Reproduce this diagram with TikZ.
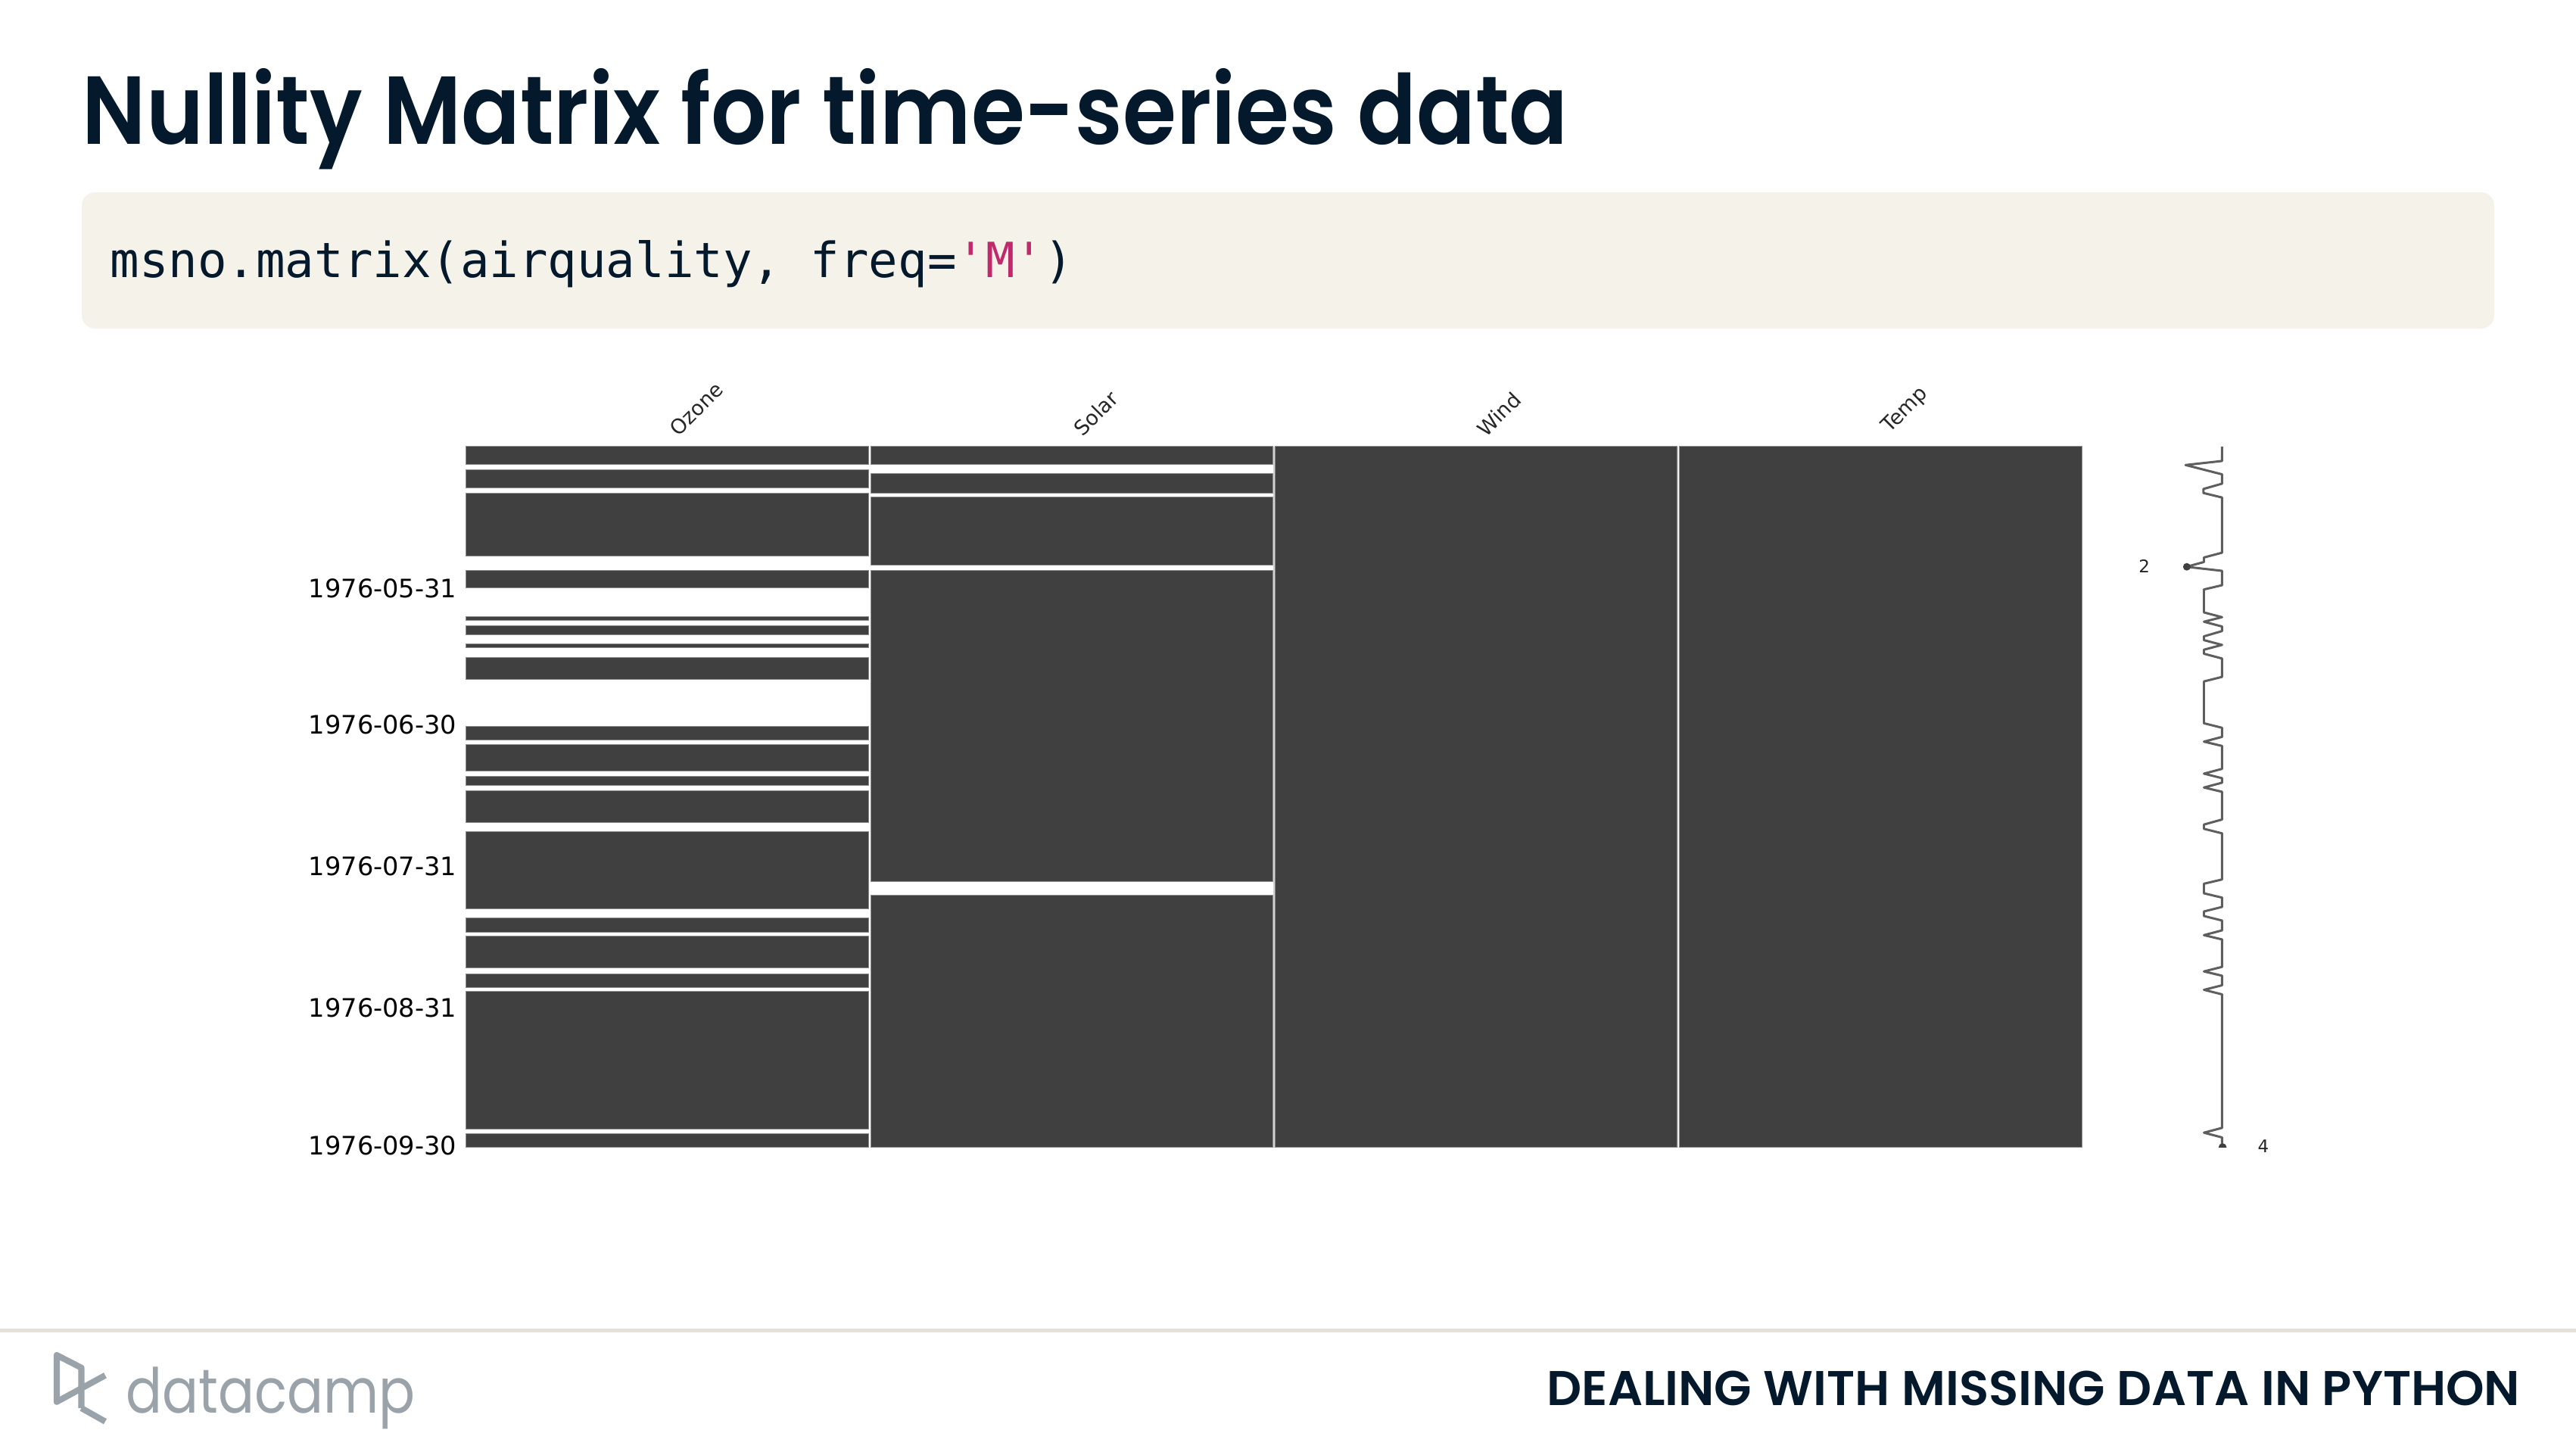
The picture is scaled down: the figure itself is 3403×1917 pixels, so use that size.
\documentclass[tikz,border=0pt]{standalone}
\usepackage{graphicx}
\usepackage{fontspec}
\setmainfont{DejaVu Sans}
\newfontfamily\popp{Poppins}
\newfontfamily\poppsb{Poppins SemiBold}
\newfontfamily\codef{DejaVu Sans Mono}
\definecolor{navy}{HTML}{05192D}
\definecolor{beige}{HTML}{F5F2E9}
\definecolor{rulec}{HTML}{E5E1DA}
\definecolor{barc}{HTML}{404040}
\definecolor{barline}{HTML}{8C8C8C}
\definecolor{sepc}{HTML}{D2D2D2}
\definecolor{sparkc}{HTML}{5E5E5E}
\definecolor{logoc}{HTML}{9BA3AA}
\definecolor{strc}{HTML}{BF2A6C}
\newcommand{\pxs}[1]{\fontsize{\dimexpr #1pt*2845/10000\relax}{\dimexpr #1pt*3000/10000\relax}\selectfont}
\tikzset{
  x=0.01cm,y=-0.01cm,
  nullbar/.style={fill=barc,draw=barline,line width=0.22pt},
  collabel/.style={rotate=45,font=\pxs{27},text=black!85,inner sep=0pt},
  datelabel/.style={anchor=east,font=\pxs{33.6},text=black,inner sep=0pt},
  sparklabel/.style={font=\pxs{23},text=black!85,inner sep=0pt},
  sparkline/.style={draw=sparkc,line width=0.85pt,line join=round},
  logoline/.style={draw=logoc,line width=2.3pt,line join=round}
}
\begin{document}
\begin{tikzpicture}
\useasboundingbox (0,0) rectangle (3403,1917);
\fill[white] (0,0) rectangle (3403,1917);
% title
\node[anchor=base west,inner sep=0pt,text=navy] (title) at (108,190) {\resizebox{1962\dimexpr 0.2845pt\relax}{!}{\scalebox{0.9}[1]{\poppsb\pxs{128}Nullity Matrix for time-series data}}};
% code box
\fill[beige,rounded corners=5pt] (108,254) rectangle (3295,434);
\node[anchor=base west,inner sep=0pt,text=navy,font=\codef\pxs{64}] (code) at (145,366) {msno.matrix(airquality, freq=\textcolor{strc}{'M'})};
% ozone bars
\foreach \a/\b in {589.6/613.2,620.4/644.3,651/734.3,753.2/776.8,814.3/819.3,826.4/838.2,850.4/855.7,868.6/897.5,958.9/977.5,982.9/1018.2,1025.6/1037.3,1044.3/1086.8,1098.2/1200.7,1212.5/1231.4,1236.4/1278.6,1286/1304.3,1309.6/1491.8,1497.1/1515.7}
  \path[nullbar] (615.7,\a) rectangle (1147.8,\b);
% solar bars
\foreach \a/\b in {589.6/613.3,625.3/651,656/746.3,753/1164.7,1182/1515.7}
  \path[nullbar] (1150.4,\a) rectangle (1681.4,\b);
% wind and temp
\path[nullbar] (1684.4,589.6) rectangle (2215,1515.7);
\path[nullbar] (2218,589.6) rectangle (2750,1515.7);
% separators
\draw[sepc,line width=0.45pt] (1682.9,589.6) -- (1682.9,1515.7);
\draw[sepc,line width=0.45pt] (2216.5,589.6) -- (2216.5,1515.7);
% column labels
\node[collabel] (ozone) at (919.6,540) {Ozone};
\node[collabel] (solar) at (1448,546) {Solar};
\node[collabel] (wind) at (1980,547) {Wind};
\node[collabel] (temp) at (2517,542) {Temp};
% dates
\node[datelabel] (d1) at (604,777) {1976-05-31};
\node[datelabel] (d2) at (604,957) {1976-06-30};
\node[datelabel] (d3) at (604,1144) {1976-07-31};
\node[datelabel] (d4) at (604,1331) {1976-08-31};
\node[datelabel] (d5) at (604,1513) {1976-09-30};
% sparkline
\begin{scope}[shift={(2780,560)},x=0.003333cm,y=-0.003333cm]
\draw[sparkline] (467,90)--(467,147)--(322,163)--(467,200)--(467,237)--(393,258)--(393,274)--(467,292)--(467,511)--(395,530)--(395,548)--(325,567)--(467,583)--(467,640)--(395,657)--(395,748)--(467,767)--(395,785)--(467,804)--(467,822)--(395,843)--(395,858)--(467,877)--(395,896)--(395,912)--(467,931)--(467,1004)--(395,1022)--(395,1188)--(467,1206)--(467,1242)--(395,1261)--(467,1278)--(467,1369)--(395,1388)--(467,1406)--(467,1424)--(395,1443)--(467,1460)
--(467,1570)--(395,1590)--(395,1607)--(467,1625)--(467,1808)--(395,1825)--(395,1863)--(467,1880)--(467,1917)--(395,1935)--(395,1953)--(467,1971)--(467,2010)--(395,2029)--(467,2046)--(467,2155)--(395,2173)--(467,2190)--(467,2228)--(395,2246)--(467,2264)--(467,2794)--(395,2813)--(467,2832)--(467,2864);
\fill[barc] (327,567) circle[radius=15];
\begin{scope}
\clip (440,2840) rectangle (500,2872);
\fill[barc] (469,2871) circle[radius=16];
\end{scope}
\end{scope}
\node[sparklabel] (lo) at (2832.7,748) {2};
\node[sparklabel] (hi) at (2990,1514) {4};
% footer
\fill[rulec] (0,1755) rectangle (3403,1760);
\node[anchor=base east,inner sep=0pt,text=navy] (foot) at (3330,1856) {\resizebox{1285\dimexpr 0.2845pt\relax}{!}{\poppsb\pxs{62}DEALING WITH MISSING DATA IN PYTHON}};
% logo
\draw[logoline] (107.5,1860) -- (107.5,1806.7) -- (75,1790) -- (75,1851.7) -- (139,1816.7);
\draw[logoline] (107.5,1860) -- (139,1877.7);
\node[anchor=base west,inner sep=0pt,text=logoc] (logo) at (166,1866) {\scalebox{0.865}[1]{\popp\pxs{82}datacamp}};
\end{tikzpicture}
\end{document}
